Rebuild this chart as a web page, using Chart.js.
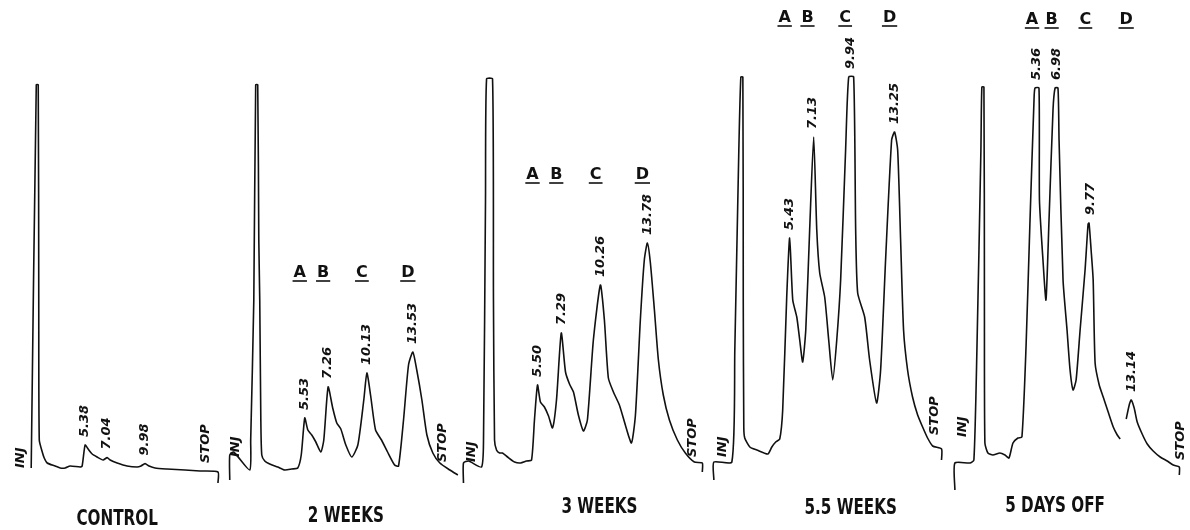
<!DOCTYPE html>
<html>
<head>
<meta charset="utf-8">
<script src="https://cdn.jsdelivr.net/npm/chart.js@4.4.1/dist/chart.umd.min.js"></script>
<style>
html, body { margin: 0; padding: 0; background: #fff; }
#wrap { position: relative; width: 1190px; height: 530px; overflow: hidden; }
#wrap canvas { position: absolute; top: 0; }
</style>
</head>
<body>
<div id="wrap"></div>
<script>
// retention times (min) printed over the peaks
const controlRT = [5.38, 7.04, 9.98];
const weeks2RT = [5.53, 7.26, 10.13, 13.53];
const weeks3RT = [5.50, 7.29, 10.26, 13.78];
const weeks55RT = [5.43, 7.13, 9.94, 13.25];
const daysOffRT = [5.36, 6.98, 9.77, 13.14];
const peakLetters = ['A', 'B', 'C', 'D'];

// recorder traces: time (min) and detector signal (% of full scale)
const controlTime = [1.24, 1.63, 1.78, 1.82, 1.86, 2.09, 2.24, 2.47, 3.08, 3.47, 3.85, 4.23, 5.0, 5.15, 5.38, 5.61, 5.92, 6.3, 6.76, 7.07, 7.3, 7.84, 8.6, 9.37, 9.67, 9.98, 10.29, 10.75, 11.67, 13.05, 14.2, 15.58, 15.58];
const controlSignal = [0.5, 96.3, 96.3, 42.5, 7.5, 4.5, 3, 1.75, 1, 0.5, 0.5, 1, 0.75, 1, 6.25, 5.25, 4, 3.25, 2.5, 3.1, 2.5, 1.75, 1, 0.75, 1, 1.6, 1, 0.5, 0.25, 0, -0.25, -0.5, -3.25];

const weeks2Time = [-0.02, -0.02, 0.27, 1.46, 1.53, 1.76, 1.9, 2.05, 2.13, 2.2, 2.28, 2.35, 2.57, 2.94, 3.53, 4.05, 4.57, 5.01, 5.27, 5.53, 5.76, 6.05, 6.35, 6.72, 6.94, 7.26, 7.6, 7.9, 8.2, 8.57, 9.01, 9.46, 9.9, 10.13, 10.4, 10.77, 11.21, 11.66, 12.18, 12.47, 12.84, 13.21, 13.53, 13.82, 14.2, 14.57, 15.01, 15.53, 16.27, 16.86];
const weeks2Signal = [-2.5, 3.75, 4.5, 0, 7.5, 42.5, 96.3, 96.3, 57.5, 42.5, 12.5, 3.75, 2.25, 1.5, 0.75, 0, 0.25, 0.5, 3.75, 13, 10, 8.75, 7, 4.5, 7.5, 20.75, 15.5, 11.75, 10.25, 6.25, 3.25, 6.25, 17.5, 24.25, 18.75, 10, 7.5, 4.5, 1.25, 1, 12.5, 26.25, 29.5, 25, 17.5, 8.75, 4.25, 1.75, 0, -1.25];

const weeks3Time = [-0.08, -0.08, 0.3, 1.28, 1.43, 1.58, 1.66, 2.11, 2.18, 2.26, 2.41, 2.64, 2.86, 3.24, 3.77, 4.22, 4.67, 5.05, 5.27, 5.5, 5.72, 6.02, 6.33, 6.63, 6.93, 7.29, 7.61, 7.91, 8.21, 8.58, 8.96, 9.26, 9.71, 10.24, 10.54, 10.84, 11.22, 11.67, 12.12, 12.58, 12.88, 13.25, 13.55, 13.78, 14.0, 14.31, 14.61, 14.98, 15.44, 16.04, 16.64, 17.32, 17.92, 17.92];
const weeks3Signal = [-3.25, 1.75, 2.25, 0.75, 7.5, 67.5, 97.75, 97.75, 42.5, 7.5, 5, 4.25, 4.25, 3.25, 2, 1.75, 2.25, 2.5, 12.5, 21.25, 17, 15.75, 13.5, 10.5, 17.5, 34.25, 24.5, 21.5, 19.5, 13.75, 9.75, 12.5, 32.5, 46.25, 37.5, 23, 19.5, 16.25, 11.25, 6.75, 13.75, 37.5, 52.5, 56.75, 52, 40, 27.5, 18.75, 12.5, 7.5, 4.25, 2, 1.75, -0.5];

const weeks55Time = [-0.22, -0.22, 1.12, 1.34, 1.64, 1.79, 1.94, 1.97, 2.01, 2.08, 2.46, 2.98, 3.8, 4.1, 4.39, 4.69, 4.91, 5.21, 5.43, 5.66, 5.96, 6.18, 6.4, 6.63, 6.92, 7.22, 7.45, 7.67, 8.04, 8.34, 8.64, 8.94, 9.23, 9.6, 9.83, 10.2, 10.35, 10.5, 11.02, 11.39, 11.91, 12.21, 12.58, 13.03, 13.25, 13.48, 13.7, 13.92, 14.22, 14.59, 14.97, 15.34, 15.71, 16.09, 16.75, 16.75];
const weeks55Signal = [-2.5, 2, 2, 30, 80, 98.25, 98.25, 42.5, 10.75, 8, 5.75, 5, 4, 5.75, 7, 7.75, 15, 43.25, 58, 42.5, 38.25, 32.5, 27, 35, 60, 83.25, 60, 49.25, 43.25, 32.5, 22.5, 32.5, 47.5, 80, 98.25, 98.25, 60, 44.25, 38.25, 27.5, 16.75, 25, 52.5, 82.5, 84.5, 80, 57.5, 35, 25, 18.25, 13.75, 10.75, 8, 6, 5.25, 2.5];

const daysOffTime = [-1.43, -1.43, -0.19, 0.14, 0.39, 0.72, 0.8, 0.97, 1.01, 1.05, 1.3, 1.71, 2.29, 2.71, 3.04, 3.37, 3.78, 4.11, 4.45, 4.78, 5.11, 5.19, 5.52, 5.56, 5.85, 6.1, 6.35, 6.68, 6.85, 7.09, 7.18, 7.51, 7.84, 8.09, 8.34, 8.59, 8.92, 9.33, 9.58, 9.66, 9.83, 10.0, 10.16, 10.5, 10.83, 11.24, 11.66, 11.99, 12.23, 12.48, 12.73, 12.98, 13.14, 13.39, 13.64, 14.05, 14.47, 14.96, 15.54, 16.12, 16.62, 17.12, 17.12];
const daysOffSignal = [-5, 1.75, 1.75, 2.5, 30, 80, 95.75, 95.75, 42.5, 6.75, 4.25, 3.75, 4.25, 3.75, 3, 6.75, 8, 8.25, 30.75, 62.5, 92.5, 95.5, 95.5, 67.5, 52.5, 42.5, 62.5, 90, 95.5, 95.5, 82.5, 47.5, 35, 25, 20, 22.5, 35, 50, 61.5, 61.75, 55, 47.5, 26.75, 21.25, 18.25, 14.5, 10.75, 8.75, 7.75, null, 12.75, 16.25, 17.5, 15.5, 12, 9, 6.5, 4.75, 3.25, 2.25, 1.25, 0.75, -1.25];

// layout of the five recorder strips
const T_MIN = -2, T_MAX = 18.5, S_MIN = -15, S_MAX = 117.5;
const panels = [
  { title: 'CONTROL', time: controlTime, signal: controlSignal, rt: controlRT, letterRow: null,
    origin: 14.8, pxPerMin: 13.04, titleAt: [7.84, -12.5], injAt: [0.4, 0.5], stopAt: [14.6, 1.75] },
  { title: '2 WEEKS', time: weeks2Time, signal: weeks2Signal, rt: weeks2RT, letterRow: 49.25,
    origin: 230.3, pxPerMin: 13.5, titleAt: [8.57, -11.75], injAt: [0.42, 3.25], stopAt: [15.76, 2] },
  { title: '3 WEEKS', time: weeks3Time, signal: weeks3Signal, rt: weeks3RT, letterRow: 73.75,
    origin: 465, pxPerMin: 13.28, titleAt: [10.17, -9.5], injAt: [0.53, 2], stopAt: [17.17, 3.25] },
  { title: '5.5 WEEKS', time: weeks55Time, signal: weeks55Signal, rt: weeks55RT, letterRow: 113,
    origin: 717, pxPerMin: 13.43, titleAt: [9.98, -9.75], injAt: [0.45, 3.25], stopAt: [16.23, 8.75] },
  { title: '5 DAYS OFF', time: daysOffTime, signal: daysOffSignal, rt: daysOffRT, letterRow: 112.5,
    origin: 972.3, pxPerMin: 12.08, titleAt: [6.85, -9.25], injAt: [-0.77, 8.25], stopAt: [17.19, 2.5] }
];

function upText(ctx, txt, x, y) {
  ctx.save();
  ctx.translate(x, y);
  ctx.rotate(-Math.PI / 2);
  ctx.textAlign = 'left';
  ctx.textBaseline = 'middle';
  ctx.fillText(txt, 0, 0);
  ctx.restore();
}

function labelPlugin(p) {
  return {
    id: 'labels',
    afterDatasetsDraw(chart) {
      const ctx = chart.ctx, xs = chart.scales.x, ys = chart.scales.y;
      ctx.save();
      ctx.fillStyle = '#111';
      ctx.strokeStyle = '#111';
      ctx.font = 'italic bold 13px "DejaVu Sans"';
      p.rt.forEach(rt => {
        let top = -Infinity;
        p.time.forEach((t, i) => {
          const s = p.signal[i];
          if (s !== null && Math.abs(t - rt) <= 0.45 && s > top) top = s;
        });
        upText(ctx, rt.toFixed(2), xs.getPixelForValue(rt), ys.getPixelForValue(top) - 8);
      });
      upText(ctx, 'INJ', xs.getPixelForValue(p.injAt[0]), ys.getPixelForValue(p.injAt[1]));
      upText(ctx, 'STOP', xs.getPixelForValue(p.stopAt[0]), ys.getPixelForValue(p.stopAt[1]));

      if (p.letterRow !== null) {
        ctx.font = 'bold 16px "DejaVu Sans"';
        ctx.textAlign = 'center';
        ctx.textBaseline = 'middle';
        ctx.lineWidth = 1.6;
        p.rt.forEach((rt, i) => {
          const x = xs.getPixelForValue(rt) - 5, y = ys.getPixelForValue(p.letterRow);
          const w = ctx.measureText(peakLetters[i]).width;
          ctx.fillText(peakLetters[i], x, y);
          ctx.beginPath();
          ctx.moveTo(x - w / 2 - 1, y + 8);
          ctx.lineTo(x + w / 2 + 1, y + 8);
          ctx.stroke();
        });
      }

      ctx.save();
      ctx.translate(xs.getPixelForValue(p.titleAt[0]), ys.getPixelForValue(p.titleAt[1]));
      ctx.scale(0.8, 1.1);
      ctx.font = 'bold 19px "DejaVu Sans"';
      ctx.textAlign = 'center';
      ctx.textBaseline = 'middle';
      ctx.fillText(p.title, 0, 0);
      ctx.restore();
      ctx.restore();
    }
  };
}

const wrap = document.getElementById('wrap');
panels.forEach(p => {
  const canvas = document.createElement('canvas');
  canvas.width = Math.round(p.pxPerMin * (T_MAX - T_MIN));
  canvas.height = 530;
  canvas.style.left = (p.origin + p.pxPerMin * T_MIN) + 'px';
  wrap.appendChild(canvas);

  new Chart(canvas, {
    type: 'line',
    data: {
      datasets: [{
        data: p.time.map((t, i) => ({ x: t, y: p.signal[i] })),
        borderColor: '#111',
        borderWidth: 1.6,
        pointRadius: 0,
        tension: 0.2,
        fill: false,
        spanGaps: false,
        clip: false
      }]
    },
    options: {
      responsive: false,
      animation: false,
      events: [],
      layout: { padding: 0 },
      scales: {
        x: { type: 'linear', display: false, min: T_MIN, max: T_MAX },
        y: { type: 'linear', display: false, min: S_MIN, max: S_MAX }
      },
      plugins: { legend: { display: false }, tooltip: { enabled: false } }
    },
    plugins: [labelPlugin(p)]
  });
});
</script>
</body>
</html>
